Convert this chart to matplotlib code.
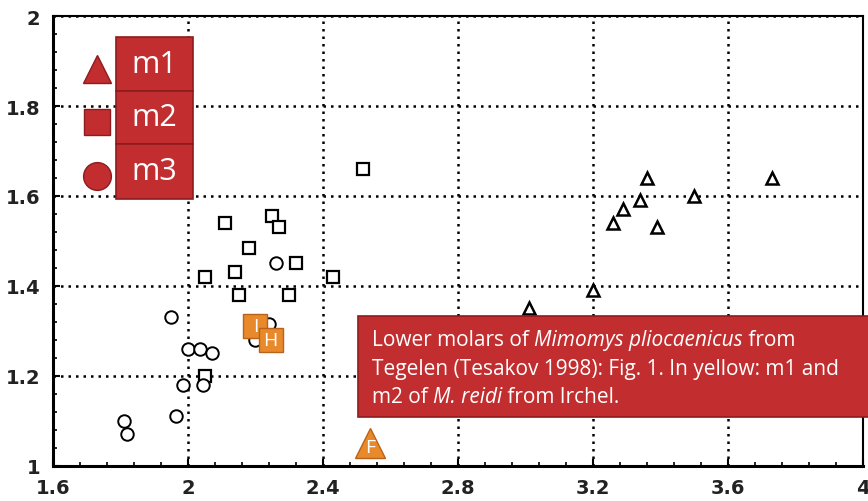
import numpy as np
import matplotlib
matplotlib.use('Agg')
import matplotlib.pyplot as plt
from matplotlib.patches import FancyBboxPatch

plt.rcParams['font.family'] = ['DejaVu Sans']

# m1 (triangles), m2 (squares), m3 (circles) of Mimomys pliocaenicus, Tegelen
m1_x = [3.01, 3.20, 3.26, 3.29, 3.34, 3.36, 3.39, 3.50, 3.73]
m1_y = [1.35, 1.39, 1.54, 1.57, 1.59, 1.64, 1.53, 1.60, 1.64]
m2_x = [2.11, 2.25, 2.27, 2.18, 2.32, 2.14, 2.05, 2.43, 2.15, 2.30, 2.05, 2.52]
m2_y = [1.54, 1.555, 1.53, 1.485, 1.45, 1.43, 1.42, 1.42, 1.38, 1.38, 1.20, 1.66]
m3_x = [1.95, 2.00, 2.035, 2.07, 1.985, 2.045, 1.965, 1.81, 1.82, 2.26, 2.24, 2.20]
m3_y = [1.33, 1.26, 1.26, 1.25, 1.18, 1.18, 1.11, 1.10, 1.07, 1.45, 1.315, 1.28]
# M. reidi from Irchel (yellow)
irchel_lab = ['I', 'H', 'F']
irchel_mk = ['s', 's', '^']
irchel_x = [2.20, 2.245, 2.54]
irchel_y = [1.31, 1.28, 1.05]

xticks = [1.6, 2.0, 2.4, 2.8, 3.2, 3.6, 4.0]
xlabels = ['1.6', '2', '2.4', '2.8', '3.2', '3.6', '4']
yticks = [1.0, 1.2, 1.4, 1.6, 1.8, 2.0]
ylabels = ['1', '1.2', '1.4', '1.6', '1.8', '2']

fig = plt.figure(figsize=(8.68, 5.02), dpi=100, facecolor='white')
ax = fig.add_axes([0.061, 0.070, 0.933, 0.896])
ax.set_xlim(1.6, 4.0)
ax.set_ylim(1.0, 2.0)

ax.grid(True, color='black', linestyle=(0, (1, 2)), linewidth=1.8)
ax.set_axisbelow(True)

ax.plot(m1_x, m1_y, '^', ms=9, mfc='white', mec='black', mew=1.8, ls='none')
ax.plot(m2_x, m2_y, 's', ms=9, mfc='white', mec='black', mew=1.6, ls='none')
ax.plot(m3_x, m3_y, 'o', ms=9, mfc='white', mec='black', mew=1.4, ls='none')

for lab, mk, x, y in zip(irchel_lab, irchel_mk, irchel_x, irchel_y):
    ms = 17 if mk == 's' else 22
    ax.plot(x, y, mk, ms=ms, mfc='#e8892b', mec='#b8621a', mew=1, zorder=5)
    ax.text(x, y - (0.008 if mk == '^' else 0), lab, color='white', fontsize=14,
            family='Open Sans', ha='center', va='center', zorder=6)

ax.set_xticks(xticks)
ax.set_xticklabels(xlabels)
ax.set_yticks(yticks)
ax.set_yticklabels(ylabels)
ax.set_xticks(np.arange(1.6, 4.0, 0.08), minor=True)
ax.set_yticks(np.arange(1.0, 2.0, 0.04), minor=True)
ax.tick_params(which='both', direction='in', colors='black', labelsize=14)
ax.tick_params(which='major', length=5, width=1.5)
ax.tick_params(which='minor', length=3, width=1.2)
ax.tick_params(axis='x', pad=9)
ax.tick_params(axis='y', pad=9)
for t in ax.get_xticklabels() + ax.get_yticklabels():
    t.set_fontweight('bold')
    t.set_color('#222222')

for s in ['left', 'bottom']:
    ax.spines[s].set_linewidth(2.2)
ax.spines['top'].set_linewidth(1.5)
ax.spines['right'].set_linewidth(1.5)

# legend boxes
box_col = '#c22d2f'
edge_col = '#8e1b1d'
legend_labels = ['m1', 'm2', 'm3']
legend_marks = ['^', 's', 'o']
box_tops = [0.953, 0.833, 0.716]
box_bots = [0.833, 0.716, 0.593]
for lab, mk, top, bot in zip(legend_labels, legend_marks, box_tops, box_bots):
    p = FancyBboxPatch((0.078, bot), 0.095, top - bot, boxstyle='square,pad=0',
                       transform=ax.transAxes, fc=box_col, ec=edge_col, lw=1.2,
                       zorder=7, clip_on=False)
    ax.add_patch(p)
    ax.text(0.1255, (top + bot) / 2, lab, transform=ax.transAxes, color='white',
            fontsize=22, family='Open Sans', ha='center', va='center', zorder=8)
    ax.plot(0.054, (top + bot) / 2 - 0.01, mk, transform=ax.transAxes,
            ms=20 if mk != 's' else 19, mfc=box_col, mec=edge_col, mew=1,
            zorder=8, clip_on=False)

# caption box
cap = FancyBboxPatch((0.377, 0.109), 0.70, 0.224, boxstyle='square,pad=0',
                     transform=ax.transAxes, fc=box_col, ec=edge_col, lw=1.2,
                     zorder=7, clip_on=False)
ax.add_patch(cap)
lines = [[('Lower molars of ', 'normal'), ('Mimomys pliocaenicus', 'italic'), (' from', 'normal')],
         [('Tegelen (Tesakov 1998): Fig. 1. In yellow: m1 and', 'normal')],
         [('m2 of ', 'normal'), ('M. reidi', 'italic'), (' from Irchel.', 'normal')]]
for i, segs in enumerate(lines):
    prev = None
    for txt, style in segs:
        kw = dict(color='white', fontsize=15, family='Open Sans', style=style,
                  ha='left', va='bottom', zorder=8)
        if prev is None:
            prev = ax.text(0.394, 0.258 - i * 0.064, txt, transform=ax.transAxes, **kw)
        else:
            prev = ax.annotate(txt, xy=(1, 0), xycoords=prev, **kw)

fig.savefig('out.png', dpi=100)
